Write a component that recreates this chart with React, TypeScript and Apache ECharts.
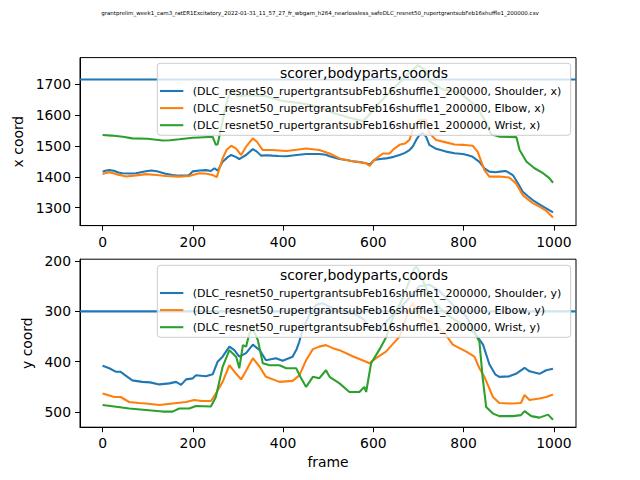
import React, { useEffect, useRef } from "react";
import * as echarts from "echarts";

const FIG_TITLE =
  "grantprelim_week1_cam3_ratER1Excitatory_2022-01-31_11_57_27_fr_wbgam_h264_nearlossless_safeDLC_resnet50_rupertgrantsubFeb16shuffle1_200000.csv";
const LEGEND_TITLE = "scorer,bodyparts,coords";
const SCORER = "DLC_resnet50_rupertgrantsubFeb16shuffle1_200000";
const BODYPARTS = ["Shoulder", "Elbow", "Wrist"];
const COLORS = ["#1f77b4", "#ff7f0e", "#2ca02c"];
const X_TICKS = [0, 200, 400, 600, 800, 1000];
const XCOORD_TICKS = [1300, 1400, 1500, 1600, 1700];
const YCOORD_TICKS = [200, 300, 400, 500];
const X_MIN = -50;
const X_MAX = 1049;
const HLINE_XCOORD = 1716;
const HLINE_YCOORD = 300;

// [frame, value]
const shoulderX = [
  [0, 1417], [8, 1421], [15, 1422], [25, 1420], [35, 1414], [44, 1412], [60, 1411], [74, 1412], [85, 1415],
  [96, 1418], [108, 1421], [120, 1418], [140, 1410], [155, 1406], [170, 1404], [185, 1404], [192, 1406],
  [200, 1418], [215, 1421], [229, 1422], [240, 1419], [248, 1428], [255, 1420], [266, 1449], [278, 1465],
  [285, 1471], [295, 1465], [303, 1458], [310, 1464], [318, 1471], [333, 1490], [342, 1482], [351, 1469],
  [365, 1470], [376, 1469], [390, 1468], [407, 1467], [430, 1471], [451, 1474], [480, 1474], [495, 1472],
  [503, 1467], [515, 1462], [525, 1458], [540, 1455], [554, 1451], [570, 1448], [584, 1444], [592, 1440],
  [602, 1455], [615, 1458], [628, 1460], [645, 1465], [658, 1471], [670, 1478], [680, 1487], [687, 1498],
  [695, 1520], [702, 1536], [710, 1542], [717, 1530], [724, 1504], [739, 1491], [761, 1482], [780, 1477],
  [798, 1474], [810, 1470], [820, 1465], [835, 1449], [846, 1428], [857, 1417], [870, 1415], [885, 1418],
  [894, 1419], [909, 1406], [920, 1380], [931, 1352], [942, 1338], [953, 1325], [968, 1311], [983, 1298],
  [998, 1285],
];
const elbowX = [
  [0, 1409], [8, 1413], [15, 1415], [30, 1409], [52, 1401], [75, 1405], [96, 1409], [120, 1406], [140, 1403],
  [170, 1401], [192, 1403], [214, 1412], [230, 1410], [244, 1406], [253, 1399], [266, 1460], [275, 1488],
  [285, 1501], [296, 1492], [307, 1471], [318, 1498], [333, 1525], [342, 1514], [355, 1487], [376, 1487],
  [407, 1484], [430, 1488], [451, 1492], [480, 1487], [503, 1476], [525, 1460], [554, 1451], [584, 1444],
  [592, 1436], [602, 1455], [621, 1476], [636, 1476], [645, 1490], [658, 1504], [670, 1508], [680, 1520],
  [687, 1552], [702, 1585], [717, 1585], [724, 1542], [739, 1520], [761, 1512], [780, 1505], [798, 1504],
  [820, 1501], [831, 1482], [846, 1422], [857, 1401], [879, 1401], [901, 1398], [916, 1379], [931, 1341],
  [953, 1315], [970, 1302], [983, 1290], [998, 1268],
];
const wristX = [
  [0, 1536], [20, 1534], [45, 1530], [66, 1525], [100, 1524], [133, 1518], [150, 1519], [170, 1522],
  [200, 1527], [214, 1528], [244, 1530], [251, 1504], [255, 1506], [262, 1554], [270, 1610], [277, 1652],
  [285, 1680], [299, 1662], [325, 1665], [362, 1662], [399, 1646], [436, 1640], [473, 1630], [510, 1608],
  [547, 1592], [577, 1581], [590, 1600], [606, 1630], [643, 1684], [680, 1738], [699, 1762], [717, 1744],
  [724, 1711], [754, 1684], [791, 1673], [828, 1630], [850, 1576], [861, 1538], [880, 1530], [917, 1529],
  [924, 1487], [939, 1450], [957, 1428], [976, 1412], [990, 1396], [998, 1381],
];

const shoulderY = [
  [0, 408], [15, 413], [30, 420], [40, 420], [55, 430], [66, 437], [88, 440], [105, 441], [126, 445],
  [148, 443], [163, 440], [174, 446], [185, 435], [200, 433], [207, 427], [229, 429], [244, 425], [255, 400],
  [266, 390], [281, 370], [292, 377], [303, 390], [318, 383], [333, 366], [348, 377], [362, 397], [384, 393],
  [399, 398], [421, 390], [430, 375], [436, 360], [443, 337], [458, 307], [473, 287], [488, 284], [510, 294],
  [532, 300], [562, 307], [580, 317], [591, 337], [614, 334], [643, 307], [673, 280], [702, 250], [724, 247],
  [747, 260], [776, 287], [806, 310], [828, 347], [843, 366], [857, 405], [870, 425], [879, 430], [901, 429],
  [916, 424], [935, 412], [946, 419], [968, 424], [983, 417], [998, 414],
];
const elbowY = [
  [0, 463], [15, 467], [26, 470], [40, 470], [59, 480], [80, 482], [96, 483], [126, 486], [155, 483],
  [185, 480], [203, 476], [220, 478], [240, 478], [251, 463], [266, 440], [281, 407], [296, 424], [307, 435],
  [318, 418], [333, 393], [348, 410], [362, 430], [392, 440], [421, 438], [436, 427], [451, 397], [466, 375],
  [480, 370], [495, 367], [510, 373], [525, 377], [554, 389], [584, 400], [591, 403], [606, 393], [628, 380],
  [643, 365], [658, 350], [680, 294], [687, 284], [702, 310], [717, 317], [739, 327], [761, 347], [776, 366],
  [806, 380], [824, 390], [835, 413], [846, 430], [865, 470], [879, 482], [909, 483], [927, 482], [935, 466],
  [946, 476], [968, 473], [983, 470], [998, 465],
];
const wristY = [
  [0, 486], [26, 489], [59, 493], [96, 496], [133, 499], [155, 499], [170, 493], [192, 493], [207, 488],
  [240, 489], [251, 470], [266, 410], [281, 377], [296, 390], [303, 413], [311, 367], [318, 370], [325, 345],
  [333, 334], [344, 357], [355, 403], [370, 407], [392, 407], [407, 413], [429, 413], [440, 433], [451, 450],
  [466, 430], [480, 433], [495, 417], [503, 430], [525, 443], [547, 460], [569, 460], [580, 450], [584, 460],
  [595, 403], [614, 375], [628, 352], [643, 313], [665, 274], [691, 214], [697, 212], [717, 254], [739, 287],
  [769, 310], [798, 327], [824, 343], [835, 360], [842, 430], [850, 490], [865, 503], [879, 508], [909, 508],
  [927, 506], [935, 498], [950, 508], [968, 511], [987, 505], [998, 515],
];

const TOP_DATA = [shoulderX, elbowX, wristX];
const BOTTOM_DATA = [shoulderY, elbowY, wristY];

const FONT = "DejaVu Sans";
const LW = 2.08;
const LEG_Z = 100;

function axisCommon(ticks: number[]) {
  return {
    type: "value" as const,
    axisLine: { show: true, onZero: false, lineStyle: { color: "#000", width: 1 } },
    splitLine: { show: false },
    axisTick: { show: true, customValues: ticks, length: 5, lineStyle: { color: "#000", width: 1 } },
    axisLabel: {
      customValues: ticks,
      color: "#000",
      fontSize: 13.9,
      fontFamily: FONT,
      margin: 9,
      formatter: (v: number) => String(v),
    },
    nameTextStyle: { color: "#000", fontSize: 13.9, fontFamily: FONT },
  };
}

function legendGraphic(top: number, coord: string) {
  const left = 157.3;
  const width = 413.4;
  const children: any[] = [
    {
      type: "rect",
      z: LEG_Z,
      shape: { x: left, y: top, width, height: 72, r: 3 },
      style: { fill: "rgba(255,255,255,0.8)", stroke: "#cccccc", lineWidth: 1 },
    },
    {
      type: "text",
      z: LEG_Z + 1,
      x: left + width / 2,
      y: top + 10,
      style: {
        text: LEGEND_TITLE,
        fontSize: 13.9,
        fontFamily: FONT,
        fill: "#000",
        align: "center",
        verticalAlign: "middle",
        textAlign: "center",
        textVerticalAlign: "middle",
      },
    },
  ];
  BODYPARTS.forEach((bp, i) => {
    const cy = top + 27.7 + i * 17.1;
    children.push({
      type: "line",
      z: LEG_Z + 1,
      shape: { x1: 160, y1: cy, x2: 183.3, y2: cy },
      style: { stroke: COLORS[i], lineWidth: LW },
    });
    children.push({
      type: "text",
      z: LEG_Z + 1,
      x: 192.7,
      y: cy,
      style: {
        text: `(${SCORER}, ${bp}, ${coord})`,
        fontSize: 11,
        fontFamily: FONT,
        fill: "#000",
        align: "left",
        verticalAlign: "middle",
        textAlign: "left",
        textVerticalAlign: "middle",
      },
    });
  });
  return { type: "group", z: LEG_Z, children };
}

export default function App() {
  const ref = useRef<HTMLDivElement>(null);
  useEffect(() => {
    if (!ref.current) return;
    const chart = echarts.init(ref.current, null, { renderer: "svg" });
    const series: any[] = [];
    const mk = (data: number[][], i: number, axis: number, coord: string) => ({
      type: "line",
      name: `(${SCORER}, ${BODYPARTS[i]}, ${coord})`,
      xAxisIndex: axis,
      yAxisIndex: axis,
      data,
      showSymbol: false,
      symbol: "none",
      z: 2,
      lineStyle: { color: COLORS[i], width: LW },
      itemStyle: { color: COLORS[i] },
      emphasis: { disabled: true },
    });
    const hline = (axis: number, v: number) => ({
      type: "line",
      name: `hline${axis}`,
      xAxisIndex: axis,
      yAxisIndex: axis,
      data: [
        [X_MIN, v],
        [X_MAX, v],
      ],
      showSymbol: false,
      symbol: "none",
      silent: true,
      z: 2,
      lineStyle: { color: COLORS[0], width: LW },
      itemStyle: { color: COLORS[0] },
      emphasis: { disabled: true },
    });
    series.push(hline(0, HLINE_XCOORD));
    TOP_DATA.forEach((d, i) => series.push(mk(d, i, 0, "x")));
    series.push(hline(1, HLINE_YCOORD));
    BOTTOM_DATA.forEach((d, i) => series.push(mk(d, i, 1, "y")));

    chart.setOption({
      animation: false,
      backgroundColor: "#fff",
      grid: [
        { left: 80, top: 57.6, width: 496, height: 168, show: true, borderColor: "#000", borderWidth: 1, backgroundColor: "transparent" },
        { left: 80, top: 259.2, width: 496, height: 168, show: true, borderColor: "#000", borderWidth: 1, backgroundColor: "transparent" },
      ],
      xAxis: [
        { ...axisCommon(X_TICKS), gridIndex: 0, min: X_MIN, max: X_MAX },
        {
          ...axisCommon(X_TICKS),
          gridIndex: 1,
          min: X_MIN,
          max: X_MAX,
          name: "frame",
          nameLocation: "middle",
          nameGap: 28,
        },
      ],
      yAxis: [
        {
          ...axisCommon(XCOORD_TICKS),
          gridIndex: 0,
          min: 1242,
          max: 1787,
          name: "x coord",
          nameLocation: "middle",
          nameGap: 50,
        },
        {
          ...axisCommon(YCOORD_TICKS),
          gridIndex: 1,
          min: 196.4,
          max: 530,
          inverse: true,
          name: "y coord",
          nameLocation: "middle",
          nameGap: 41,
        },
      ],
      graphic: {
        elements: [
          {
            type: "text",
            x: 320,
            y: 13,
            style: {
              text: FIG_TITLE,
              fontSize: 5.5,
              fontFamily: FONT,
              fill: "#000",
              align: "center",
              verticalAlign: "middle",
              textAlign: "center",
              textVerticalAlign: "middle",
            },
          },
          legendGraphic(63.3, "x"),
          legendGraphic(265.3, "y"),
        ],
      },
      series,
    });
    return () => chart.dispose();
  }, []);
  return (
    <div
      ref={ref}
      style={{ position: "absolute", left: 0, top: 0, width: 640, height: 480 }}
    />
  );
}
